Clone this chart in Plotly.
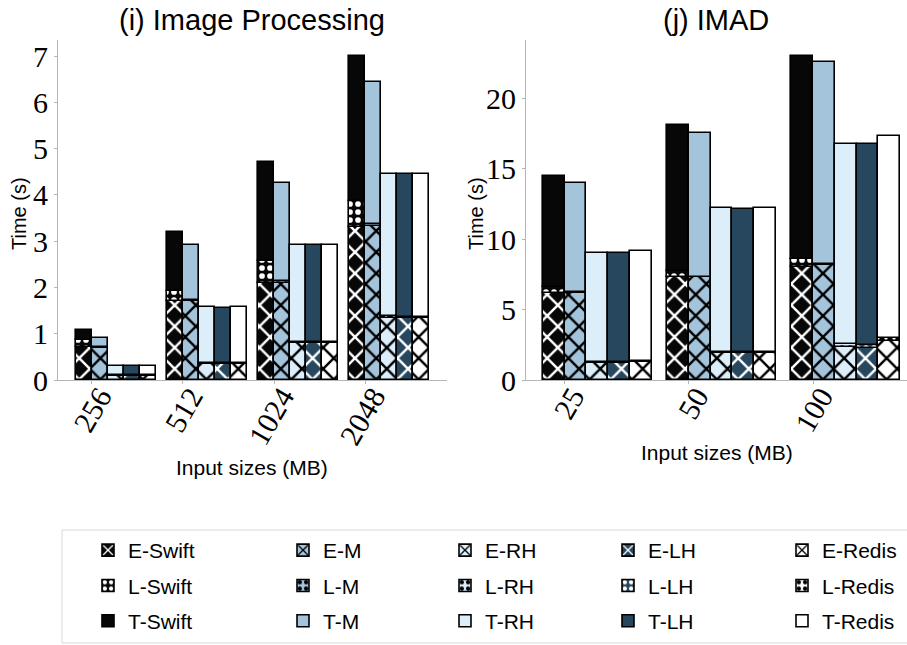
import plotly.graph_objects as go

# ---------------- data ----------------
systems = ["Swift", "M", "RH", "LH", "Redis"]

ip_sizes = ["256", "512", "1024", "2048"]
ip_E = {
    "Swift": [0.72, 1.70, 2.09, 3.30],
    "M":     [0.70, 1.70, 2.10, 3.33],
    "RH":    [0.09, 0.35, 0.80, 1.35],
    "LH":    [0.09, 0.35, 0.79, 1.33],
    "Redis": [0.09, 0.35, 0.80, 1.33],
}
ip_L = {
    "Swift": [0.14, 0.23, 0.49, 0.57],
    "M":     [0.02, 0.02, 0.03, 0.04],
    "RH":    [0.02, 0.02, 0.03, 0.03],
    "LH":    [0.02, 0.02, 0.03, 0.03],
    "Redis": [0.02, 0.02, 0.03, 0.03],
}
ip_T = {
    "Swift": [1.09, 3.20, 4.71, 7.00],
    "M":     [0.91, 2.92, 4.26, 6.45],
    "RH":    [0.31, 1.57, 2.92, 4.46],
    "LH":    [0.30, 1.56, 2.91, 4.45],
    "Redis": [0.31, 1.57, 2.92, 4.46],
}

imad_sizes = ["25", "50", "100"]
imad_E = {
    "Swift": [6.20, 7.30, 8.00],
    "M":     [6.20, 7.30, 8.20],
    "RH":    [1.20, 1.90, 2.35],
    "LH":    [1.20, 1.90, 2.30],
    "Redis": [1.30, 1.95, 2.75],
}
imad_L = {
    "Swift": [0.42, 0.42, 0.60],
    "M":     [0.05, 0.05, 0.05],
    "RH":    [0.06, 0.06, 0.18],
    "LH":    [0.06, 0.06, 0.18],
    "Redis": [0.06, 0.06, 0.25],
}
imad_T = {
    "Swift": [14.52, 18.10, 23.00],
    "M":     [14.02, 17.55, 22.60],
    "RH":    [9.05, 12.19, 16.78],
    "LH":    [9.00, 12.17, 16.75],
    "Redis": [9.15, 12.20, 17.30],
}

colors = {"Swift": "#070707", "M": "#a4c4dc", "RH": "#ddeefb",
          "LH": "#27475e", "Redis": "#ffffff"}
hatch_col = {"Swift": "white", "M": "black", "RH": "black",
             "LH": "white", "Redis": "black"}

# ---------------- figure ----------------
W = 0.175
SANS = "Liberation Sans"
SERIF = "Liberation Serif"

fig = go.Figure()


def add_panel(sizes, E, L, T, xa, ya, show):
    n = len(sizes)
    for k, s in enumerate(systems):
        xs = [i - W / 2 + k * W for i in range(n)]
        e = E[s]
        l = L[s]
        top = [T[s][i] - e[i] - l[i] for i in range(n)]
        lg = "legend" if k == 0 else f"legend{k + 1}"
        common = dict(x=xs, width=W, xaxis=xa, yaxis=ya, showlegend=show,
                      legend=lg, hoverinfo="skip")
        line = dict(color="black", width=1.6)
        fig.add_trace(go.Bar(
            y=e, base=[0] * n, name=f"E-{s}", legendgroup=f"E-{s}",
            marker=dict(color=colors[s], line=line,
                        pattern=dict(shape="x", fillmode="overlay",
                                     fgcolor=hatch_col[s], fgopacity=1,
                                     size=15, solidity=0.3)),
            **common))
        fig.add_trace(go.Bar(
            y=l, base=e, name=f"L-{s}", legendgroup=f"L-{s}",
            marker=dict(color=colors[s], line=line,
                        pattern=dict(shape=".", fillmode="overlay",
                                     fgcolor=hatch_col[s], fgopacity=1,
                                     size=8, solidity=0.4)),
            **common))
        fig.add_trace(go.Bar(
            y=top, base=[e[i] + l[i] for i in range(n)], name=f"T-{s}",
            legendgroup=f"T-{s}",
            marker=dict(color=colors[s], line=line),
            **common))


add_panel(ip_sizes, ip_E, ip_L, ip_T, "x", "y", True)
add_panel(imad_sizes, imad_E, imad_L, imad_T, "x2", "y2", False)

FW, FH = 907, 645
ydom = [(FH - 380) / FH, (FH - 40) / FH]

axis_common = dict(showline=True, linecolor="#b5b5b5", linewidth=1,
                   showgrid=False, zeroline=False, ticks="outside",
                   ticklen=3, tickcolor="#b5b5b5", automargin=False,
                   tickfont=dict(family=SERIF, size=30, color="black"))
xtick_extra = dict(tickangle=-60, ticklabelstandoff=-17, ticklabelshift=8)

fig.update_layout(
    width=FW, height=FH,
    margin=dict(l=0, r=0, t=0, b=0),
    plot_bgcolor="white", paper_bgcolor="white",
    barmode="overlay", bargap=0,
    xaxis=dict(domain=[58 / FW, 447 / FW], range=[-0.369, 3.894],
               tickvals=list(range(len(ip_sizes))), ticktext=ip_sizes,
               anchor="y", **xtick_extra, **axis_common),
    yaxis=dict(domain=ydom, range=[0, 7.35], tickvals=list(range(8)),
               anchor="x", **axis_common),
    xaxis2=dict(domain=[526 / FW, 1.0], range=[-0.31, 2.755],
                tickvals=list(range(len(imad_sizes))), ticktext=imad_sizes,
                anchor="y2", **xtick_extra, **axis_common),
    yaxis2=dict(domain=ydom, range=[0, 24.15], tickvals=[0, 5, 10, 15, 20],
                anchor="x2", **axis_common),
)


def ann(text, x, y, size, angle=0):
    fig.add_annotation(text=text, x=x / FW, y=1 - y / FH, xref="paper",
                       yref="paper", showarrow=False, xanchor="center",
                       yanchor="middle", textangle=angle,
                       font=dict(family=SANS, size=size, color="black"))


# subplot titles and axis titles
ann("(i) Image Processing", 252, 20, 29)
ann("(j) IMAD", 716, 20, 29)
ann("Input sizes (MB)", 252, 467, 21)
ann("Input sizes (MB)", 717, 452, 21)
ann("Time (s)", 19, 214, 20, -90)
ann("Time (s)", 476, 214, 20, -90)

# legends: one column per system
text_x = [130, 325, 487, 650, 824]
for k in range(5):
    key = "legend" if k == 0 else f"legend{k + 1}"
    fig.update_layout({key: dict(
        x=(text_x[k] - 42) / FW, y=1 - 530 / FH, xanchor="left",
        yanchor="top", orientation="v", bgcolor="rgba(0,0,0,0)",
        borderwidth=0, tracegroupgap=5,
        font=dict(family=SANS, size=21, color="black"))})

fig.add_shape(type="rect", xref="paper", yref="paper",
              x0=62 / FW, x1=1.01, y0=1 - 643 / FH, y1=1 - 530 / FH,
              line=dict(color="#d8d8d8", width=1), layer="below")

fig.write_html("out.html", config={"displayModeBar": False},
               post_script="document.body.style.margin='0';"
                           "document.body.style.overflow='hidden';")
